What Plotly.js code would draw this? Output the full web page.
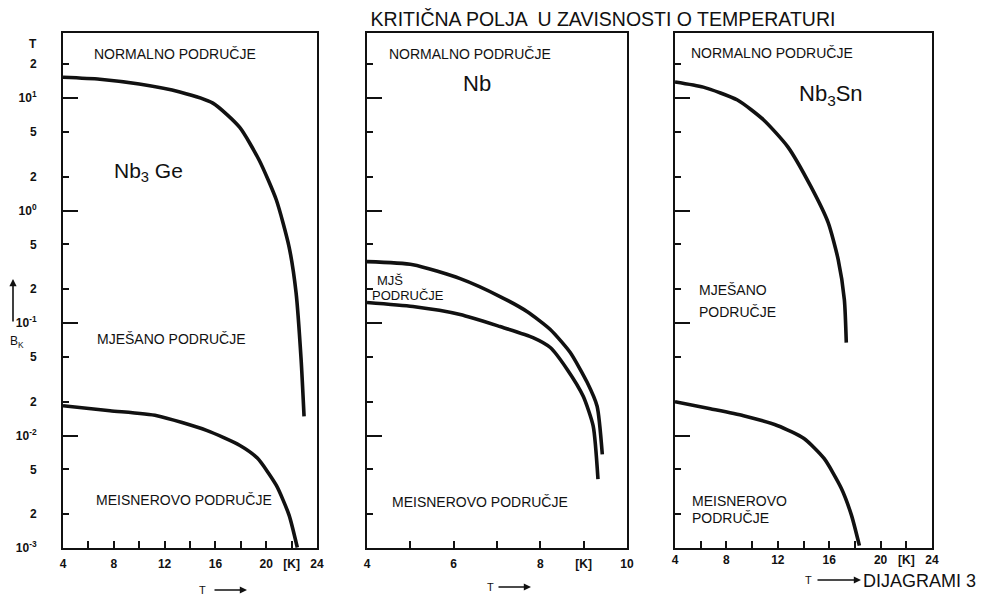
<!DOCTYPE html>
<html>
<head>
<meta charset="utf-8">
<script src="https://cdn.plot.ly/plotly-3.0.1.min.js"></script>
<style>html,body{margin:0;padding:0;background:#fff;}#chart{width:983px;height:596px;}</style>
</head>
<body>
<div id="chart"></div>
<script>
// ---------- data ----------
// Nb3Ge
const geT_upper = [4, 6.9, 10.0, 13.2, 15.8, 17.9, 19.45, 20.8, 21.8, 22.35, 22.75, 22.98];
const geB_upper = [15.3, 14.7, 13.3, 11.3, 9.0, 5.5, 2.8, 1.24, 0.476, 0.187, 0.047, 0.0148];
const geT_lower = [4, 7.7, 11.4, 15.3, 17.9, 19.3, 20.8, 21.8, 22.45];
const geB_lower = [0.0184, 0.0166, 0.0150, 0.0111, 0.0082, 0.0063, 0.0036, 0.00196, 0.00101];
// Nb
const nbT_upper = [4.0, 5.06, 6.15, 7.07, 7.70, 8.23, 8.69, 9.08, 9.31, 9.43];
const nbB_upper = [0.351, 0.330, 0.248, 0.172, 0.126, 0.0876, 0.0547, 0.0297, 0.0182, 0.0068];
const nbT_lower = [4.0, 5.06, 6.15, 7.07, 7.83, 8.23, 8.62, 8.99, 9.22, 9.33];
const nbB_lower = [0.152, 0.140, 0.119, 0.093, 0.0743, 0.0606, 0.0387, 0.0223, 0.0121, 0.0041];
// Nb3Sn
const snT_upper = [4, 6.2, 8.86, 10.9, 12.78, 14.59, 15.92, 16.7, 17.18, 17.33];
const snB_upper = [13.9, 12.5, 9.6, 6.38, 3.68, 1.62, 0.78, 0.366, 0.161, 0.067];
const snT_lower = [4, 6.75, 9.33, 12.0, 14.04, 15.6, 16.94, 17.73, 18.35];
const snB_lower = [0.020, 0.0173, 0.0150, 0.0122, 0.0094, 0.00625, 0.0034, 0.00196, 0.00105];

// ticks
const yTickVals = [20, 10, 5, 2, 1, 0.5, 0.2, 0.1, 0.05, 0.02, 0.01, 0.005, 0.002, 0.001];
const yTickText = ['2', '10<sup>1</sup>', '5', '2', '10<sup>0</sup>', '5', '2', '10<sup>-1</sup>', '5', '2', '10<sup>-2</sup>', '5', '2', '10<sup>-3</sup>'];
const yDecades = [10, 1, 0.1, 0.01, 0.001];
const xWideVals = [4, 6, 8, 10, 12, 14, 16, 18, 20, 22, 24];
const xWideText = ['4', '', '8', '', '12', '', '16', '', '20', '[K]', '24'];
const xNbVals = [4, 5, 6, 7, 8, 9, 10];
const xNbText = ['4', '', '6', '', '8', '[K]', '10'];

// ---------- layout helpers ----------
const W = 983, H = 596;
const FONT = 'Liberation Sans, Arial, sans-serif';
const INK = '#111';
const px = x => x / W, py = y => 1 - y / H;

const lineStyle = {color: INK, width: 3.6, shape: 'spline', smoothing: 0.6};
function curve(x, y, xa, ya) {
  return {x, y, xaxis: xa, yaxis: ya, type: 'scatter', mode: 'lines', line: lineStyle, hoverinfo: 'skip', showlegend: false};
}
function holder(xa, ya) {
  return {x: [], y: [], xaxis: xa, yaxis: ya, type: 'scatter', mode: 'lines', hoverinfo: 'skip', showlegend: false};
}
const data = [
  curve(geT_upper, geB_upper, 'x', 'y'),
  curve(geT_lower, geB_lower, 'x', 'y'),
  curve(nbT_upper, nbB_upper, 'x2', 'y2'),
  curve(nbT_lower, nbB_lower, 'x2', 'y2'),
  curve(snT_upper, snB_upper, 'x3', 'y3'),
  curve(snT_lower, snB_lower, 'x3', 'y3'),
  holder('x', 'y4'), holder('x2', 'y5'), holder('x3', 'y6')
];

const yDomain = [py(548), py(33)];
const yRange = [-3, 1.578];
function xAxis(dom, range, vals, text, anchor, standoff) {
  return {domain: [px(dom[0]), px(dom[1])], range, anchor, showgrid: false, zeroline: false,
    showline: true, mirror: true, linecolor: INK, linewidth: 2,
    ticks: 'inside', ticklen: 7, tickwidth: 2, tickcolor: INK,
    tickmode: 'array', tickvals: vals, ticktext: text, ticklabelstandoff: standoff,
    tickfont: {family: FONT, size: 12, color: INK, weight: 'bold'}, fixedrange: true};
}
function yAxis(anchor, labels) {
  return {type: 'log', domain: yDomain, range: yRange, anchor, showgrid: false, zeroline: false,
    showline: true, mirror: true, linecolor: INK, linewidth: 2,
    ticks: 'inside', ticklen: 6, tickwidth: 2, tickcolor: INK,
    tickmode: 'array', tickvals: yTickVals, ticktext: yTickText,
    showticklabels: labels, ticklabelstandoff: 22,
    tickfont: {family: FONT, size: 12, color: INK, weight: 'bold'}, fixedrange: true};
}
function yLong(anchor, over) {
  return {type: 'log', domain: yDomain, range: yRange, anchor, overlaying: over, side: 'left', showgrid: false, zeroline: false,
    showline: false, ticks: 'inside', ticklen: 15, tickwidth: 2, tickcolor: INK,
    tickmode: 'array', tickvals: yDecades, showticklabels: false, fixedrange: true};
}

function lab(text, x, y, size, xanchor, extra) {
  return Object.assign({text, xref: 'paper', yref: 'paper', x: px(x), y: py(y), showarrow: false,
    xanchor: xanchor || 'center', yanchor: 'middle', font: {family: FONT, size: size || 14, color: INK}}, extra || {});
}
function arrow(xHead, yHead, ax, ay) {
  return {text: '', xref: 'paper', yref: 'paper', x: px(xHead), y: py(yHead), ax, ay, axref: 'pixel', ayref: 'pixel',
    showarrow: true, arrowhead: 2, arrowsize: 0.9, arrowwidth: 1.6, arrowcolor: INK};
}

const annotations = [
  // panel 1
  lab('NORMALNO PODRUČJE', 175, 54, 14),
  lab('Nb<sub>3</sub> Ge', 148, 172, 21),
  lab('MJEŠANO PODRUČJE', 171, 339, 14),
  lab('MEISNEROVO PODRUČJE', 184, 500, 14),
  // panel 2
  lab('NORMALNO PODRUČJE', 470, 54, 14),
  lab('Nb', 477, 83, 22),
  lab('MJŠ', 375, 280, 13, 'left'),
  lab('PODRUČJE', 370, 296, 13, 'left'),
  lab('MEISNEROVO PODRUČJE', 480, 502, 14),
  // panel 3
  lab('NORMALNO PODRUČJE', 772, 53, 14),
  lab('Nb<sub>3</sub>Sn', 831, 95, 22),
  lab('MJEŠANO', 697, 290, 14, 'left'),
  lab('PODRUČJE', 697, 312, 14, 'left'),
  lab('MEISNEROVO', 690, 501, 14, 'left'),
  lab('PODRUČJE', 690, 518, 14, 'left'),
  // axis labels
  lab('T', 33, 44, 12, 'center', {font: {family: FONT, size: 12, color: INK, weight: 'bold'}}),
  lab('B<sub>K</sub>', 17, 342, 12),
  arrow(13, 279, 0, 44),
  lab('T', 202, 590, 11),
  arrow(247, 590, -34, 0),
  lab('T', 490, 587, 11),
  arrow(531, 587, -34, 0),
  lab('T', 808, 580, 11),
  arrow(861, 580, -45, 0),
  lab('DIJAGRAMI 3', 861, 581, 18, 'left')
];

const layout = {
  width: W, height: H,
  margin: {l: 0, r: 0, t: 0, b: 0},
  paper_bgcolor: '#fff', plot_bgcolor: '#fff',
  showlegend: false,
  title: {text: 'KRITIČNA POLJA  U ZAVISNOSTI O TEMPERATURI', x: px(603), y: py(19), xanchor: 'center', yanchor: 'middle',
    font: {family: FONT, size: 19.5, color: INK}},
  xaxis: xAxis([63, 317], [4, 24], xWideVals, xWideText, 'y', 4),
  xaxis2: xAxis([367, 627], [4, 10], xNbVals, xNbText, 'y2', 4),
  xaxis3: xAxis([675, 932], [4, 24], xWideVals, xWideText, 'y3', 0),
  yaxis: yAxis('x', true),
  yaxis2: yAxis('x2', false),
  yaxis3: yAxis('x3', false),
  yaxis4: yLong('x', 'y'),
  yaxis5: yLong('x2', 'y2'),
  yaxis6: yLong('x3', 'y3'),
  annotations
};

Plotly.newPlot('chart', data, layout, {staticPlot: true, displayModeBar: false});
</script>
</body>
</html>
